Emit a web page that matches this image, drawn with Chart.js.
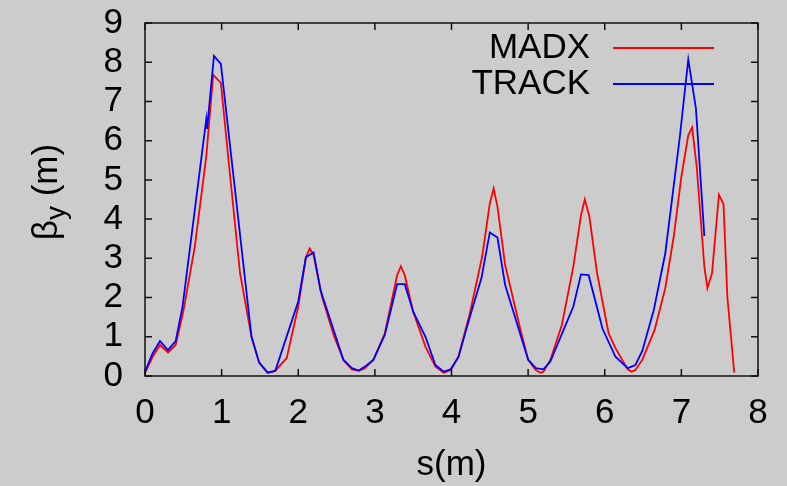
<!DOCTYPE html>
<html>
<head>
<meta charset="utf-8">
<script src="https://cdn.jsdelivr.net/npm/chart.js@4.4.1/dist/chart.umd.min.js"></script>
<style>
  body { margin: 0; background: #cccccc; }
  canvas { display: block; }
</style>
</head>
<body>
<canvas id="betaChart" width="787" height="486"></canvas>
<script>
const xTicks = [0, 1, 2, 3, 4, 5, 6, 7, 8];
const yTicks = [0, 1, 2, 3, 4, 5, 6, 7, 8, 9];

const sMadx = [0, 0.10, 0.196, 0.30, 0.40, 0.50, 0.65, 0.80, 0.89, 0.99, 1.09, 1.24, 1.39, 1.49, 1.60, 1.70,
  1.85, 2.00, 2.10, 2.15, 2.20, 2.31, 2.46, 2.59, 2.70, 2.79, 2.87, 2.98, 3.13, 3.29, 3.34, 3.39, 3.50,
  3.66, 3.79, 3.90, 3.99, 4.09, 4.24, 4.40, 4.50, 4.55, 4.60, 4.70, 4.89, 5.00, 5.10, 5.16, 5.20, 5.29,
  5.44, 5.59, 5.69, 5.74, 5.80, 5.90, 6.05, 6.14, 6.30, 6.35, 6.40, 6.49, 6.65, 6.79, 6.90, 7.00, 7.09,
  7.14, 7.20, 7.30, 7.34, 7.40, 7.49, 7.55, 7.60, 7.69];
const betaMadx = [0.08, 0.49, 0.79, 0.60, 0.79, 1.64, 3.30, 5.60, 7.68, 7.47, 5.50, 2.62, 1.00, 0.34, 0.085, 0.13,
  0.46, 1.77, 3.03, 3.25, 3.08, 2.02, 1.05, 0.41, 0.17, 0.13, 0.20, 0.41, 1.09, 2.57, 2.80, 2.57, 1.64,
  0.75, 0.24, 0.085, 0.15, 0.49, 1.60, 3.04, 4.40, 4.78, 4.32, 2.83, 1.26, 0.41, 0.15, 0.085, 0.11, 0.41,
  1.30, 2.79, 4.10, 4.50, 4.06, 2.62, 1.09, 0.71, 0.17, 0.11, 0.15, 0.41, 1.17, 2.24, 3.55, 5.08, 6.14,
  6.34, 5.34, 2.79, 2.24, 2.62, 4.62, 4.38, 2.02, 0.085];

const sTrack = [0, 0.10, 0.196, 0.30, 0.40, 0.49, 0.80, 0.81, 0.90, 0.99, 1.39, 1.49, 1.60, 1.70, 2.00, 2.10,
  2.20, 2.29, 2.59, 2.70, 2.79, 2.87, 2.98, 3.13, 3.29, 3.39, 3.50, 3.66, 3.79, 3.90, 3.99, 4.09, 4.24,
  4.39, 4.50, 4.60, 4.70, 5.00, 5.10, 5.20, 5.29, 5.59, 5.69, 5.79, 5.97, 6.14, 6.30, 6.40, 6.49, 6.64,
  6.79, 6.98, 7.09, 7.19, 7.30];
const betaTrack = [0.11, 0.58, 0.89, 0.66, 0.89, 1.77, 6.55, 6.30, 8.16, 7.96, 1.00, 0.34, 0.085, 0.13, 1.90, 3.03,
  3.15, 2.19, 0.41, 0.20, 0.14, 0.24, 0.41, 1.05, 2.34, 2.34, 1.64, 1.00, 0.28, 0.11, 0.17, 0.48, 1.51,
  2.49, 3.66, 3.53, 2.32, 0.42, 0.20, 0.17, 0.37, 1.77, 2.59, 2.57, 1.21, 0.49, 0.20, 0.28, 0.64, 1.68,
  3.13, 6.10, 8.07, 6.82, 3.57];

const FONT = "'Liberation Sans', Arial, sans-serif";

// gnuplot-ish frame, inward ticks, key and y label
const framePlugin = {
  id: "frame",
  afterDraw(chart) {
    const ctx = chart.ctx;
    const a = chart.chartArea;
    const xs = chart.scales.x;
    const ys = chart.scales.y;
    ctx.save();
    ctx.strokeStyle = "#111";
    ctx.lineWidth = 1.5;
    ctx.strokeRect(a.left, a.top, a.right - a.left, a.bottom - a.top);
    ctx.beginPath();
    xTicks.forEach(v => {
      const px = xs.getPixelForValue(v);
      ctx.moveTo(px, a.bottom); ctx.lineTo(px, a.bottom - 7);
      ctx.moveTo(px, a.top); ctx.lineTo(px, a.top + 7);
    });
    yTicks.forEach(v => {
      const py = ys.getPixelForValue(v);
      ctx.moveTo(a.left, py); ctx.lineTo(a.left + 7, py);
      ctx.moveTo(a.right, py); ctx.lineTo(a.right - 7, py);
    });
    ctx.stroke();

    // key
    ctx.font = "35px " + FONT;
    ctx.textAlign = "right";
    ctx.textBaseline = "middle";
    const keyY = [48, 84];
    chart.data.datasets.forEach((ds, i) => {
      ctx.fillStyle = "#000";
      ctx.fillText(ds.label, 590, keyY[i]);
      ctx.strokeStyle = ds.borderColor;
      ctx.lineWidth = 1.8;
      ctx.beginPath();
      ctx.moveTo(613, keyY[i]);
      ctx.lineTo(714, keyY[i]);
      ctx.stroke();
    });

    // y label: beta_y (m)
    ctx.translate(45, 192);
    ctx.rotate(-Math.PI / 2);
    ctx.fillStyle = "#000";
    ctx.textAlign = "left";
    ctx.textBaseline = "alphabetic";
    const big = "35px " + FONT, small = "28px " + FONT;
    ctx.font = big;
    const wB = ctx.measureText("\u03b2").width;
    const wM = ctx.measureText(" (m)").width;
    ctx.font = small;
    const wY = ctx.measureText("y").width;
    let x0 = -(wB + wY + wM) / 2;
    const base = 12;
    ctx.font = big;
    ctx.fillText("\u03b2", x0, base);
    ctx.font = small;
    ctx.fillText("y", x0 + wB, base + 8);
    ctx.font = big;
    ctx.fillText(" (m)", x0 + wB + wY, base);
    ctx.restore();
  }
};

new Chart(document.getElementById("betaChart"), {
  type: "line",
  data: {
    datasets: [
      {
        label: "MADX",
        data: sMadx.map((s, i) => ({ x: s, y: betaMadx[i] })),
        borderColor: "#ff0000",
        borderWidth: 1.8,
        pointRadius: 0,
        tension: 0,
        order: 2
      },
      {
        label: "TRACK",
        data: sTrack.map((s, i) => ({ x: s, y: betaTrack[i] })),
        borderColor: "#0000ff",
        borderWidth: 1.8,
        pointRadius: 0,
        tension: 0,
        order: 1
      }
    ]
  },
  options: {
    responsive: false,
    devicePixelRatio: 1,
    animation: false,
    layout: { padding: { top: 23, right: 29, left: 0, bottom: 0 } },
    plugins: {
      legend: { display: false },
      tooltip: { enabled: false }
    },
    scales: {
      x: {
        type: "linear",
        min: 0,
        max: 8,
        afterBuildTicks: s => { s.ticks = xTicks.map(v => ({ value: v })); },
        afterFit: s => { s.height = 110; s.paddingLeft = 0; s.paddingRight = 0; },
        grid: { display: false, drawTicks: false },
        border: { display: false },
        ticks: { color: "#000", font: { family: FONT, size: 35 }, padding: 16, maxRotation: 0, autoSkip: false },
        title: { display: true, text: "s(m)", color: "#000", font: { family: FONT, size: 35 }, padding: { top: 0, bottom: 0 } }
      },
      y: {
        type: "linear",
        min: 0,
        max: 9,
        afterBuildTicks: s => { s.ticks = yTicks.map(v => ({ value: v })); },
        afterFit: s => { s.width = 145; s.paddingTop = 0; s.paddingBottom = 0; },
        grid: { display: false, drawTicks: false },
        border: { display: false },
        ticks: { color: "#000", font: { family: FONT, size: 35 }, padding: 22, autoSkip: false }
      }
    }
  },
  plugins: [framePlugin]
});
</script>
</body>
</html>
